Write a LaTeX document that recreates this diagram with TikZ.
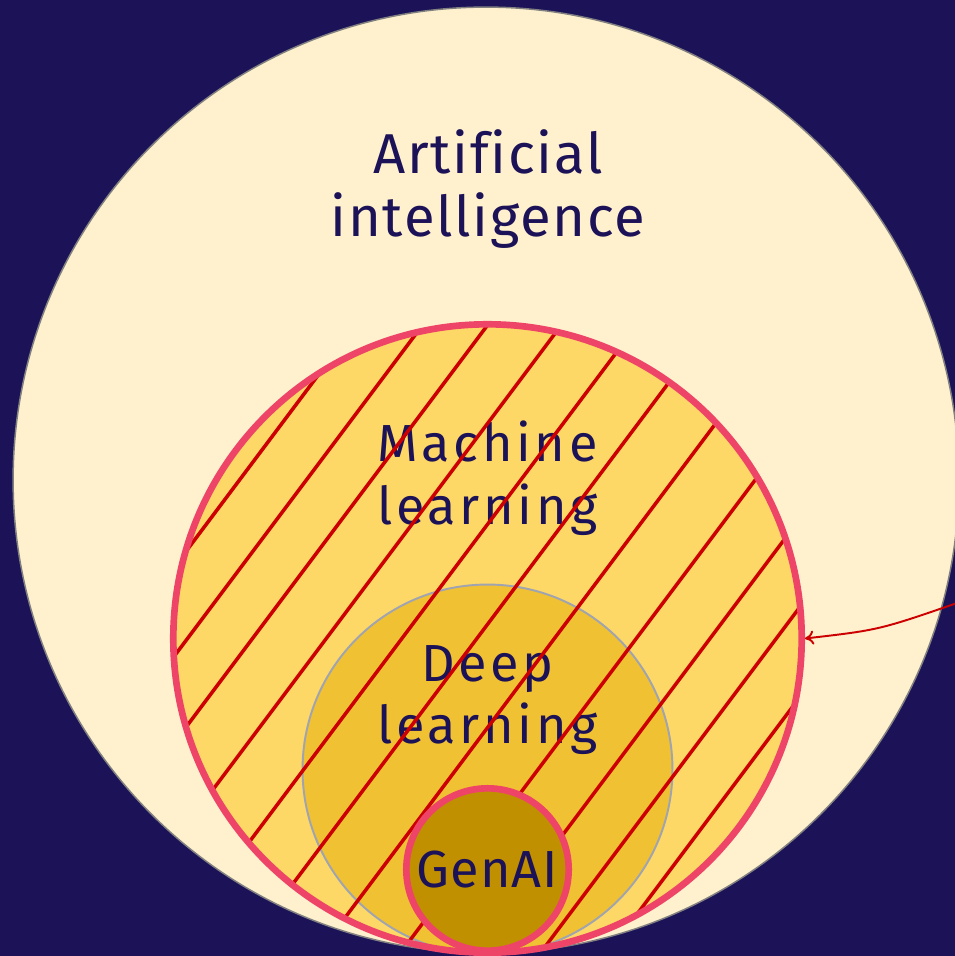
\documentclass[tikz,border=0pt]{standalone}
\usepackage{fontspec}
\setmainfont{Fira Sans}[LetterSpace=7,Ligatures=CommonOff]
\newfontfamily\aifont{Fira Sans}[LetterSpace=3,Ligatures=CommonOff]
\newfontfamily\genfont{Fira Sans}[LetterSpace=2]
\usetikzlibrary{arrows.meta}
\definecolor{navy}{RGB}{28,18,88}
\definecolor{cream}{RGB}{255,241,206}
\definecolor{mlyellow}{RGB}{253,216,102}
\definecolor{dlyellow}{RGB}{240,193,50}
\definecolor{genochre}{RGB}{193,144,0}
\definecolor{ringpink}{RGB}{238,68,104}
\definecolor{hatchred}{RGB}{204,0,0}
\definecolor{dlgray}{RGB}{160,164,176}
\definecolor{aigray}{RGB}{128,128,128}

\begin{document}
\begin{tikzpicture}[x=0.02cm,y=-0.02cm,
	disc/.style={circle,inner sep=0pt},
	areaname/.style={text=navy,align=center,font=\fontsize{29.7}{35.7}\selectfont},
	hatch/.style={hatchred,line width=2pt},
	pointer/.style={-{To[length=5pt,width=8pt]},hatchred,line width=1.1pt}]
	% draw background
	\fill[navy] (0,0) rectangle (955,956);
	\useasboundingbox (0,0) rectangle (955,956);
	
	% draw discs
	\node[disc,fill=cream,draw=aigray,line width=.85pt,minimum size=18.92cm] (ai) at (486,480) {};
	\node[disc,fill=mlyellow,line width=3.8pt,minimum size=12.568cm] (ml) at (487.5,638.5) {};
	\node[disc,fill=dlyellow,draw=dlgray,line width=1.1pt,minimum size=7.4cm] (dl) at (487.5,769.5) {};
	
	% draw labels
	\node[areaname,font=\aifont\fontsize{32}{35.5}\selectfont] (ainame) at (488,189) {Artificial\\intelligence};
	\node[areaname] (mlname) at (487.5,478) {Machine\\learning};
	\node[areaname] (dlname) at (487.5,700) {Deep\\learning};
	
	% draw hatching
	\begin{scope}
		\clip (ml.center) circle[radius=314.2];
		\foreach \d in {-293.5,-240,-188,-129,-68.5,-8.5,53.5,119,178,231,285}
			\draw[hatch] ({487.5+0.8*\d-240},{638.5+0.6*\d+320}) -- ({487.5+0.8*\d+240},{638.5+0.6*\d-320});
	\end{scope}
	\draw[ringpink,line width=3.8pt] (ml.center) circle[radius=314.2];
	
	% draw genai
	\node[disc,fill=genochre,draw=ringpink,line width=3.8pt,minimum size=3.248cm,areaname,font=\genfont\fontsize{29.7}{35.7}\selectfont] (gen) at (487.5,869.5) {GenAI};
	
	% draw arrow
	\coordinate (src) at (960,602);
	\draw[pointer] (src) .. controls (879,630) .. (ml.east);
\end{tikzpicture}
\end{document}
